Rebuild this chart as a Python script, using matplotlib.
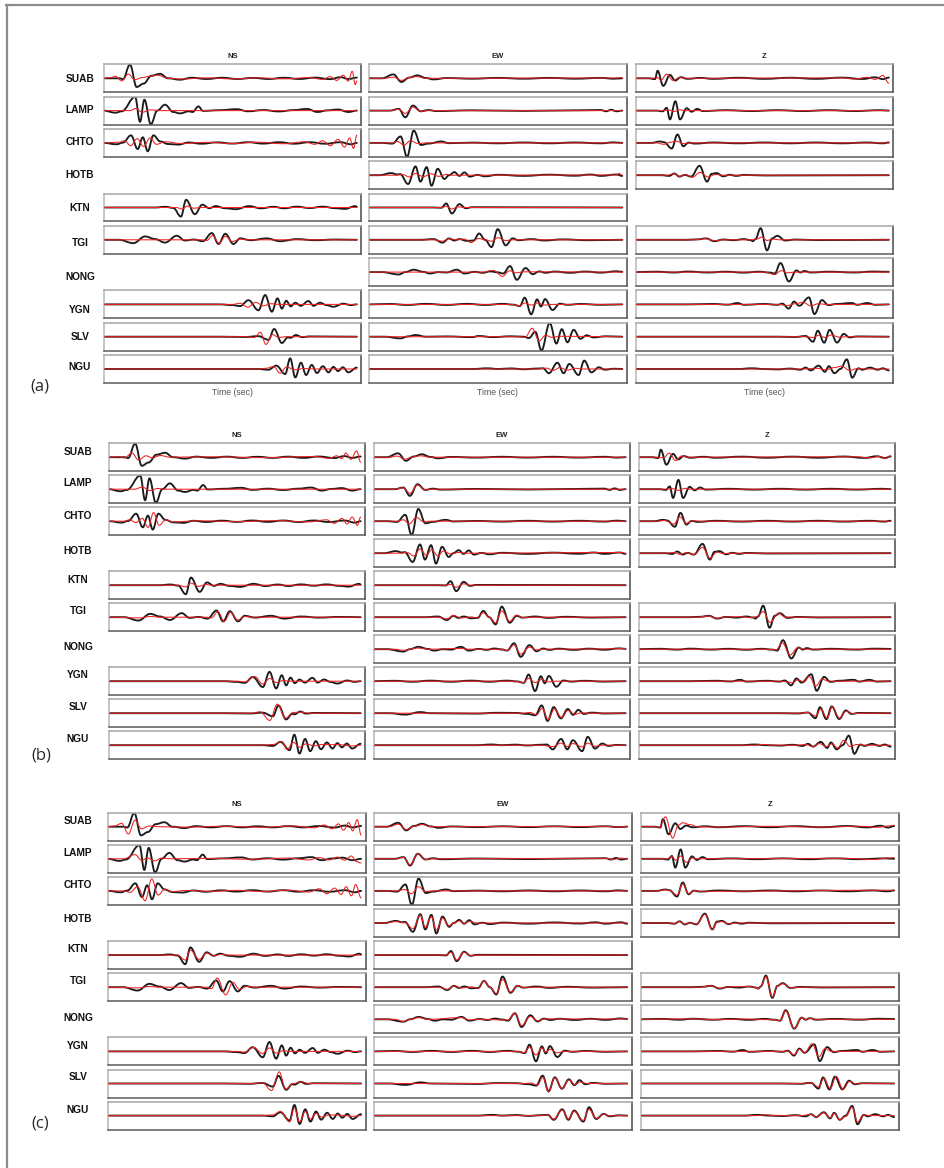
import matplotlib
matplotlib.use('Agg')
import matplotlib.pyplot as plt
from matplotlib.path import Path
from matplotlib.patches import PathPatch
from matplotlib.lines import Line2D

# ---------------- data ----------------
stations = ['SUAB', 'LAMP', 'CHTO', 'HOTB', 'KTN', 'TGI', 'NONG', 'YGN', 'SLV', 'NGU']
components = ['NS', 'EW', 'Z']
available = {
    'NS': ['SUAB', 'LAMP', 'CHTO', 'KTN', 'TGI', 'YGN', 'SLV', 'NGU'],
    'EW': ['SUAB', 'LAMP', 'CHTO', 'HOTB', 'KTN', 'TGI', 'NONG', 'YGN', 'SLV', 'NGU'],
    'Z':  ['SUAB', 'LAMP', 'CHTO', 'HOTB', 'TGI', 'NONG', 'YGN', 'SLV', 'NGU'],
}
panel_labels = ['(a)', '(b)', '(c)']
time_label = 'Time (sec)'

# Observed waveforms (black): extrema as (time % of window, normalised amplitude)
obs_SUAB_NS = [(0,0),(6,0),(7.5,-0.06),(10.2,0.98),(12.8,-0.62),(15.5,-0.38),(18.5,0.18),(21.9,0.32),(25,0.0),(29.7,-0.1),(34,0.04),(40,-0.05),(46,0.04),(52,-0.05),(58,0.03),(64,-0.05),(70,0.04),(76,-0.05),(82,0.05),(88,-0.06),(92,0.08),(95,-0.05),(98.3,0.05)]
obs_LAMP_NS = [(0,0),(4.5,-0.15),(7,-0.05),(12.2,0.98),(14.1,-0.8),(15.8,0.78),(18.3,-0.98),(20.8,0.0),(23.8,0.42),(27,-0.1),(29.7,-0.2),(33,-0.05),(34.5,-0.1),(36.8,0.3),(38.5,-0.02),(45,0.03),(51.7,0.1),(56,-0.05),(62,0.04),(68,-0.06),(74,0.04),(79,0.12),(83,-0.1),(87,0.02),(91,0.08),(95,-0.1),(98.3,0.0)]
obs_CHTO_NS = [(0,0),(5,-0.1),(7.5,0.02),(10.6,0.54),(13.2,-0.44),(15.2,0.4),(17.1,-0.6),(19.3,0.54),(22,0.1),(25,-0.08),(29,-0.12),(33,0.03),(38,-0.06),(44,0.04),(50,-0.05),(56,0.05),(62,-0.05),(68,0.05),(74,-0.06),(80,0.05),(86,-0.06),(92,0.05),(96,-0.1),(98.3,0.0)]
obs_KTN_NS = [(0,0),(20,0),(24,0.05),(27,-0.03),(30.0,-0.65),(32.0,0.55),(35.4,-0.48),(38.3,0.2),(41,-0.05),(43.5,0.1),(47,-0.05),(51.3,-0.12),(56.5,0.1),(61,-0.06),(66,0.05),(70,-0.06),(75,0.06),(80,-0.04),(85,0.06),(90,-0.05),(93.7,-0.1),(97.7,0.1),(98.3,0.05)]
obs_TGI_NS = [(0,0),(6,0),(11.5,-0.24),(16.1,0.24),(20,0.05),(23.8,-0.2),(28.4,0.29),(31.5,-0.05),(35,0.02),(38.5,-0.1),(42,0.48),(44.6,-0.3),(47.2,0.43),(50.4,-0.3),(53,0.1),(57,-0.03),(63.3,0.1),(68.5,-0.1),(75,0.05),(82,-0.03),(90,0.02),(98.3,0)]
obs_YGN_NS = [(0,0),(45,0),(50,-0.05),(53,-0.12),(56.2,0.3),(60.1,-0.42),(62.7,0.67),(65.3,-0.52),(67.5,0.43),(69.2,-0.3),(70.9,0.26),(72.6,-0.14),(74.4,0.12),(76.5,-0.1),(79.5,0.24),(81.5,-0.1),(84,0.12),(86.5,-0.05),(89.2,-0.17),(93,0.05),(96,-0.05),(98.3,0)]
obs_SLV_NS = [(0,0),(45,0),(55,-0.02),(60,0.04),(64,-0.22),(66.2,0.55),(69.2,-0.45),(71.5,-0.05),(72.5,-0.08),(74.7,0.12),(77,-0.03),(80,0.02),(98.3,0)]
obs_NGU_NS = [(0,0),(60,0),(64,-0.05),(67,0.24),(70.5,-0.36),(72.4,0.76),(74.4,-0.6),(76.6,0.45),(78.6,-0.43),(80.8,0.29),(82.8,-0.29),(85.1,0.2),(87.3,-0.24),(89.2,0.15),(91,-0.15),(92.9,0.12),(95,-0.24),(98.3,0.1)]

obs_SUAB_EW = [(0,0),(5,0),(9.4,0.28),(12.5,-0.26),(15.5,0.05),(18.7,0.21),(22,0.02),(25,-0.08),(30,0.02),(40,-0.03),(50,0.03),(60,-0.03),(70,0.03),(80,-0.03),(90,0.03),(95,-0.03),(98.3,0)]
obs_LAMP_EW = [(0,0),(8,0),(11.5,0.12),(14,-0.48),(17,0.36),(20,-0.05),(23,0.04),(26,-0.03),(40,0.02),(60,-0.02),(80,0.02),(90,0.04),(92,-0.05),(94,0.06),(96,-0.05),(98.3,0)]
obs_CHTO_EW = [(0,0),(5,0),(9,-0.05),(12.2,0.46),(14.7,-1.0),(17.3,0.88),(20.1,-0.15),(23,-0.05),(28,0.1),(31,-0.02),(40,0.02),(50,-0.03),(60,0.03),(70,-0.03),(80,0.03),(90,-0.03),(95,0.04),(98.3,0)]
obs_HOTB_EW = [(0,0),(4,0),(8.5,0.15),(11,0.05),(12,0.08),(15.1,-0.63),(18,0.63),(19.9,-0.46),(22.3,0.58),(24.2,-0.75),(26.6,0.46),(29.2,-0.27),(31,0.0),(33.1,0.22),(35,-0.05),(37,0.2),(39,-0.1),(42,0.02),(45,-0.08),(50,0.03),(60,-0.05),(70,0.04),(80,-0.04),(86,0.05),(90,-0.05),(96,0.05),(98.3,-0.05)]
obs_KTN_EW = [(0,0),(25,0),(28,-0.02),(29.9,0.29),(32.1,-0.43),(35,0.24),(37.5,-0.05),(40,0.02),(98.3,0)]
obs_TGI_EW = [(0,0),(20,0),(25,0.05),(28.5,-0.2),(31,0.1),(33,-0.05),(35,0.05),(38,-0.08),(40.5,-0.05),(42.7,0.45),(45,0.0),(47.5,-0.52),(49.9,0.76),(53,-0.4),(55.7,0.1),(58,-0.03),(63,0.05),(68,-0.05),(75,0.03),(85,-0.03),(98.3,0)]
obs_NONG_EW = [(0,0),(5,0),(11.5,-0.17),(14,0.0),(17.3,0.17),(21,0.02),(23.5,-0.1),(27,0.0),(30,-0.03),(34,0.17),(37,-0.1),(41,0.02),(44,-0.05),(47,0.05),(50,-0.02),(52,-0.1),(54.7,0.43),(57.3,-0.55),(60.7,0.29),(63.5,-0.15),(66,0.05),(68.5,-0.05),(72,0.04),(78,-0.05),(84,0.04),(90,-0.04),(96,0.06),(98.3,0.02)]
obs_YGN_EW = [(0,0),(8,0.03),(15,-0.04),(22,0.04),(30,-0.04),(38,0.04),(45,-0.04),(52,0.04),(56,-0.02),(58.5,-0.12),(60.4,0.48),(62.9,-0.71),(65.2,0.36),(66.7,-0.15),(68.3,0.38),(71.2,-0.4),(74,0.05),(77,-0.03),(82,0.03),(90,-0.03),(98.3,0)]
obs_SLV_EW = [(0,0),(6,0),(12.2,-0.12),(15,0.02),(18,0.12),(22,0.0),(30,0.02),(40,-0.03),(42.5,0.05),(48,-0.03),(55,0.03),(60,0.0),(62,-0.1),(64.5,0.35),(66.9,-0.98),(70.1,0.98),(72.7,-0.49),(74.8,0.54),(77,-0.4),(79.4,0.49),(82,-0.15),(84.5,0.1),(87,-0.05),(92,0.03),(98.3,0)]
obs_NGU_EW = [(0,0),(40,0),(46,0.05),(50,0.0),(55,0.04),(60,-0.02),(65,0.03),(67.5,0.05),(69.8,-0.3),(73.1,0.45),(75.5,-0.3),(77.7,0.36),(81.3,-0.43),(83.5,0.6),(86.3,-0.24),(89.2,0.12),(91.5,-0.05),(95,0.02),(98.3,0)]

obs_SUAB_Z = [(0,0),(5,0),(7.5,-0.06),(8.5,0.54),(10.7,-0.54),(13.3,0.24),(15.3,-0.16),(17.5,0.08),(20,-0.04),(25,0.03),(30,-0.04),(40,0.04),(50,-0.04),(60,0.04),(70,-0.04),(80,0.05),(88,-0.05),(93,0.07),(96,-0.06),(98.3,0.05)]
obs_LAMP_Z = [(0,0),(8,0),(10.5,-0.05),(12,0.2),(13.3,-0.63),(15.4,0.67),(17.2,-0.63),(19.8,0.17),(21.7,-0.08),(23.9,0.12),(26,-0.03),(35,0.03),(45,-0.03),(55,0.03),(65,-0.03),(75,0.03),(85,-0.03),(95,0.03),(98.3,0)]
obs_CHTO_Z = [(0,0),(6,0),(9.5,0.1),(11,0.05),(14,-0.4),(16.2,0.6),(18.5,-0.24),(20.5,0.02),(23,-0.05),(30,0.03),(40,-0.03),(50,0.03),(60,-0.03),(70,0.03),(80,-0.03),(90,0.03),(96,-0.03),(98.3,0.03)]
obs_HOTB_Z = [(0,0),(10,0),(13,-0.05),(15,0.12),(17,-0.1),(19,0.02),(21.5,-0.1),(24.8,0.67),(27.7,-0.46),(29.5,0.1),(31.4,0.15),(34,-0.08),(36.5,0.03),(39,-0.05),(42,0.02),(50,-0.02),(98.3,0)]
obs_TGI_Z = [(0,0),(20,0),(24,0.03),(27.3,0.1),(30.5,-0.1),(34,0.02),(38,-0.03),(42,0.05),(44.5,-0.02),(45.5,-0.1),(46.5,0.05),(48.5,0.83),(51,-0.76),(53,0.1),(55,0.29),(58,-0.05),(62,0.02),(70,-0.02),(98.3,0)]
obs_NONG_Z = [(0,0),(8,0.03),(15,-0.03),(20,0.04),(28,-0.03),(35,0.03),(42,-0.04),(48,0.03),(52,-0.03),(54,-0.1),(56.2,0.65),(59.5,-0.67),(62.4,0.12),(64,-0.03),(65.5,0.08),(68,-0.03),(75,0.03),(85,-0.03),(92,0.04),(98.3,0.02)]
obs_YGN_Z = [(0,0),(20,0),(30,0.03),(36,-0.02),(39.5,0.1),(42,-0.03),(50,0.03),(55,-0.03),(57,0.05),(59.4,-0.3),(61.5,0.2),(63.5,-0.1),(67.3,0.5),(69.4,-0.69),(72.3,0.31),(74.8,-0.05),(78,0.03),(83.9,0.1),(86,-0.03),(90,0.1),(93,-0.03),(98.3,0)]
obs_SLV_Z = [(0,0),(55,0),(62,-0.02),(66,0.05),(68.9,-0.36),(70.7,0.43),(73.2,-0.43),(75.3,0.49),(78.2,-0.42),(80.8,0.2),(83,-0.05),(86,0.02),(98.3,0)]
obs_NGU_Z = [(0,0),(40,0),(45,0.05),(50,0.0),(55,-0.03),(60,0.03),(64,-0.05),(66,0.1),(68,-0.1),(71,0.24),(73.5,-0.2),(75,0.2),(77.2,-0.3),(79.5,0.0),(82,0.69),(84.1,-0.62),(86.5,0.05),(88,-0.05),(91,0.1),(94,-0.05),(96,0.05),(98.3,-0.1)]

# observed trace as plotted in panels (b) and (c) where it differs from (a)
obsbc_SLV_EW = [(0,0),(6,0),(12.2,-0.1),(18,0.08),(22,0),(40,-0.03),(48,0.03),(55,0.02),(60,-0.05),(63,-0.15),(65.5,0.56),(67.8,-0.56),(70.2,0.44),(73,-0.37),(75.7,0.3),(77.8,-0.12),(79.8,0.24),(82,-0.05),(85,0.04),(90,-0.02),(98.3,0)]

# Synthetic waveforms (red), panel (a)
syn_a_SUAB_NS = [(0,0),(3,0.05),(4.5,0.15),(7,-0.18),(9.6,0.3),(12,-0.1),(15,0.05),(18,0.15),(21,0.22),(25,0.0),(30,-0.05),(40,0.03),(50,-0.04),(60,0.03),(70,-0.04),(80,0.05),(85,-0.08),(88,0.12),(90.5,-0.15),(93,0.22),(95,-0.2),(96.5,0.5),(97.7,-0.45),(98.3,-0.2)]
syn_a_LAMP_NS = [(0,0),(10,0),(12.5,0.15),(15,-0.12),(18,0.05),(22,0),(98.3,0)]
syn_a_CHTO_NS = [(0,0),(6,0.05),(8,0.15),(10.5,-0.2),(13,0.3),(15.5,-0.25),(18,0.35),(20.5,-0.1),(24,0.08),(30,-0.04),(40,0.04),(50,-0.04),(60,0.05),(70,-0.06),(78,0.08),(82,-0.1),(85,0.15),(88,-0.2),(91,0.25),(93.5,-0.3),(95.5,0.35),(97,-0.4),(98.3,0.55)]
syn_a_KTN_NS = [(0,0),(28,0),(30.5,-0.1),(32.5,0.1),(35,-0.05),(38,0),(98.3,0)]
syn_a_TGI_NS = [(0,0),(38,0),(40,-0.05),(42.3,0.3),(44.8,-0.25),(47.3,0.25),(50,-0.12),(53,0.05),(56,0),(98.3,0)]
syn_a_YGN_NS = [(0,0),(50,0),(53,0.08),(56,-0.2),(59,0.15),(62,-0.1),(65,0.05),(68,0),(98.3,0)]
syn_a_SLV_NS = [(0,0),(55,0),(58.5,-0.05),(60.8,0.32),(63,-0.55),(65.5,0.15),(68,-0.05),(71,0),(98.3,0)]
syn_a_NGU_NS = [(0,0),(60,0),(63,0.05),(66,0.18),(68.5,-0.3),(71,0.15),(74,-0.05),(78,0.03),(82,0),(98.3,0)]
syn_a_SUAB_EW = [(0,0),(6,0),(9.5,0.08),(12.5,-0.15),(15.5,0.05),(18.5,0.12),(22,0),(96,0.02),(97.5,0.06),(98.3,0)]
syn_a_LAMP_EW = [(0,0),(8,0),(11.5,0.1),(14,-0.2),(17,0.25),(20,-0.05),(23,0),(98.3,0)]
syn_a_CHTO_EW = [(0,0),(9,0),(11,0.1),(13.5,-0.15),(16,0.15),(19,-0.05),(22,0),(98.3,0)]
syn_a_HOTB_EW = [(0,0),(10,0),(13,0.05),(15.5,-0.12),(18,0.12),(21,-0.1),(24,0.1),(27,-0.08),(30,0.05),(33,0),(96,0.02),(97,0.12),(98.3,0)]
syn_a_KTN_EW = [(0,0),(28,0),(30,0.08),(32,-0.1),(34.5,0.05),(37,0),(98.3,0)]
syn_a_TGI_EW = [(0,0),(25,0),(28.5,-0.1),(31,0.08),(34,0),(37,0.05),(39.5,-0.2),(42.5,0.1),(45,0),(47.5,-0.1),(50,0.15),(53,-0.05),(56,0),(98.3,0)]
syn_a_NONG_EW = [(0,0),(44,0),(48.2,0.12),(51.8,-0.3),(54.5,0.1),(57,-0.05),(60,0.02),(98.3,0)]
syn_a_YGN_EW = [(0,0),(55,0),(58.3,-0.1),(60.4,0.1),(63,-0.05),(65.5,0.1),(68,-0.05),(71,0),(98.3,0)]
syn_a_SLV_EW = [(0,0),(58,0),(60.5,-0.05),(63.3,0.6),(66,-0.3),(68.5,0.1),(71,-0.05),(74,0.03),(98.3,0)]
syn_a_NGU_EW = [(0,0),(65,0),(69,0.06),(71.5,-0.1),(74,0.1),(77,-0.08),(80,0.05),(83,0),(98.3,0)]
syn_a_SUAB_Z = [(0,0),(6,0),(8.5,0.05),(9.8,-0.15),(12,0.3),(14.5,-0.15),(17,0.05),(20,0),(80,0.03),(85,-0.05),(90,0.07),(93,-0.08),(96,0.2),(98.3,-0.35)]
syn_a_LAMP_Z = [(0,0),(10,0),(13,0.04),(15,-0.06),(17,0.06),(19,0),(98.3,0)]
syn_a_CHTO_Z = [(0,0),(8,0),(11,-0.1),(13.5,0.05),(16,0.12),(18.5,-0.05),(21,0),(98.3,0)]
syn_a_HOTB_Z = [(0,0),(12,0),(15,0.1),(17,-0.08),(19.5,0.03),(22,-0.15),(25,0.2),(28,-0.12),(31,0.05),(34,0),(98.3,0)]
syn_a_TGI_Z = [(0,0),(22,0),(27.3,0.08),(30.5,-0.06),(34,0),(45,0),(47,0.05),(49,0.2),(51,-0.05),(53,0.05),(56,0),(98.3,0)]
syn_a_NONG_Z = [(0,0),(50,0),(54,-0.17),(56.5,0.1),(59,-0.05),(62,0),(98.3,0)]
syn_a_YGN_Z = [(0,0),(55,0),(59,-0.08),(62,0.05),(65,0.15),(68,-0.1),(71,0.05),(74,0),(98.3,0)]
syn_a_SLV_Z = [(0,0),(65,0),(69,-0.05),(71,0.1),(73.5,-0.05),(76,0.12),(79,-0.03),(82,0),(98.3,0)]
syn_a_NGU_Z = [(0,0),(65,0),(70,0.05),(74,-0.05),(77,0.1),(80,0.2),(83,-0.1),(86,0.03),(89,0),(98.3,0)]

# Synthetic waveforms (red), panel (b)
syn_b_SUAB_NS = [(0,0),(4,0.03),(6,-0.05),(9,0.3),(11.5,-0.2),(14.5,0.1),(17,-0.05),(20,0.12),(24,0),(40,0.03),(60,-0.03),(80,0.05),(86,-0.08),(89,0.1),(91,-0.1),(92.5,0.3),(94.5,-0.15),(96.7,0.45),(98.3,-0.35)]
syn_b_LAMP_NS = [(0,0),(10,0),(13,0.15),(16,-0.1),(19,0.05),(22,0),(98.3,0)]
syn_b_CHTO_NS = [(0,0),(6,0),(8,0.1),(10.5,-0.1),(13,0.2),(15.3,-0.45),(17.4,0.62),(19.6,-0.3),(22,0.1),(25,-0.05),(35,0.03),(50,-0.03),(65,0.04),(78,-0.05),(85,0.1),(88,-0.15),(91,0.2),(93,-0.2),(95,0.3),(97,-0.3),(98.3,0.3)]
syn_b_KTN_NS = [(0,0),(27,0),(30,-0.12),(32,0.15),(35,-0.08),(38,0.05),(40,0),(98.3,0)]
syn_b_TGI_NS = [(0,0),(12,-0.05),(16,0.05),(20,0),(38,0),(40,-0.05),(42.5,0.4),(45,-0.3),(47.5,0.35),(50.3,-0.2),(53,0.05),(56,0),(98.3,0)]
syn_b_YGN_NS = [(0,0),(50,0),(53,-0.05),(57,0.33),(60,-0.2),(62.8,0.2),(65.5,-0.1),(68,0.05),(71,0),(98.3,0)]
syn_b_SLV_NS = [(0,0),(56,0),(59,0.1),(62.8,-0.52),(65.7,0.65),(69,-0.35),(72,0.05),(75,0.08),(78,0),(98.3,0)]
syn_b_NGU_NS = [(0,0),(60,0),(64,0.05),(67.6,0.25),(69.6,-0.3),(72,0.2),(74.5,-0.15),(77,0.1),(80,-0.05),(83,0.05),(90,0.03),(95,-0.05),(98.3,0)]
syn_b_SUAB_EW = [(0,0),(6,0),(9,0.08),(12,-0.15),(15,0.02),(18,0.1),(22,0),(98.3,0)]
syn_b_LAMP_EW = [(0,0),(8,0),(11.5,0.1),(14,-0.3),(17,0.3),(20,-0.05),(23,0),(98.3,0)]
syn_b_CHTO_EW = [(0,0),(9,0),(11.5,0.1),(13.8,-0.2),(16.5,0.28),(19.5,-0.05),(22,0),(98.3,0)]
syn_b_HOTB_EW = [(0,0),(10,0),(13,0.05),(15.5,-0.2),(18,0.3),(20.5,-0.15),(22.5,0.25),(25,-0.2),(27,0.15),(30,-0.05),(33,0.05),(36,0),(97,0.05),(98.3,0)]
syn_b_KTN_EW = [(0,0),(28,0),(30,0.05),(32.2,-0.15),(35,0.1),(37.5,0),(98.3,0)]
syn_b_TGI_EW = [(0,0),(25,0),(28.5,-0.12),(31,0.12),(34,-0.05),(38,0.02),(40,-0.05),(42.7,0.32),(45,0.0),(47.5,-0.4),(49.9,0.45),(53,-0.3),(55.7,0.15),(58,-0.03),(61,0),(98.3,0)]
syn_b_NONG_EW = [(0,0),(8,0),(11.5,-0.08),(17,0.08),(22,0),(34,0.05),(37,0),(50,0),(52,-0.1),(54.7,0.3),(57.3,-0.35),(60.7,0.15),(63.5,-0.05),(66,0),(90,0.02),(98.3,0.05)]
syn_b_YGN_EW = [(0,0),(55,0),(58.3,-0.1),(60.4,0.2),(63,-0.1),(65.5,0.12),(68,-0.05),(71,0),(98.3,0)]
syn_b_SLV_EW = [(0,0),(58,0),(61,0.05),(63.5,-0.1),(65.8,0.35),(68,-0.45),(70.5,0.3),(73.2,-0.3),(75.8,0.2),(78.5,-0.08),(81,0.03),(84,0),(98.3,0)]
syn_b_NGU_EW = [(0,0),(65,0),(69.8,-0.1),(73.1,0.15),(75.5,-0.1),(77.7,0.12),(81.3,-0.12),(83.5,0.15),(86.3,-0.08),(89,0),(98.3,0)]
syn_b_SUAB_Z = [(0,0),(7,0),(9.5,-0.05),(11.8,0.29),(14.3,-0.24),(16.5,0.08),(19,0),(85,0.03),(90,-0.05),(94,0.05),(96.5,-0.08),(98.3,0.1)]
syn_b_LAMP_Z = [(0,0),(10,0),(13,0.04),(15.5,-0.08),(18,0.06),(20,0),(98.3,0)]
syn_b_CHTO_Z = [(0,0),(7,0),(10,0.05),(13.6,-0.2),(16,0.3),(18.5,-0.15),(21,0.03),(24,0),(98.3,0)]
syn_b_HOTB_Z = [(0,0),(10,0),(14,0.05),(16,-0.08),(18.5,0.03),(21.5,-0.1),(24.8,0.42),(27.7,-0.35),(30.5,0.08),(33,-0.03),(36,0),(98.3,0)]
syn_b_TGI_Z = [(0,0),(22,0),(27.3,0.08),(30.5,-0.08),(34,0.02),(40,0.03),(44,-0.03),(46,0.05),(48.6,0.4),(51.2,-0.38),(54.5,0.28),(57,0.02),(60,0),(98.3,0)]
syn_b_NONG_Z = [(0,0),(50,0),(53.5,-0.05),(56,0.45),(59,-0.42),(62,0.1),(65,0),(98.3,0)]
syn_b_YGN_Z = [(0,0),(55,0),(58,-0.05),(60,-0.12),(62,0.1),(64.5,-0.05),(66.5,0.35),(69,-0.35),(71.5,0.15),(74,0),(98.3,0)]
syn_b_SLV_Z = [(0,0),(62,0),(66,0.05),(69,-0.2),(71,0.3),(73.5,-0.35),(75.5,0.45),(78.3,-0.35),(81,0.15),(83.5,-0.03),(86,0),(98.3,0)]
syn_b_NGU_Z = [(0,0),(45,0),(48.4,0.05),(52,0),(62,0),(65,0.05),(68,-0.1),(70.5,0.12),(73,-0.1),(75.5,0.1),(77.5,-0.2),(80,0.35),(82.5,-0.1),(85,0.05),(88,0),(98.3,0)]

# Synthetic waveforms (red), panel (c)
syn_c_SUAB_NS = [(0,0),(2.5,0.05),(5.3,0.24),(7.9,-0.52),(10.5,0.47),(13,-0.15),(16,0.05),(20,0),(30,-0.03),(45,0.03),(60,-0.04),(72,0.05),(80,-0.08),(84,0.12),(87,-0.15),(89.5,0.2),(91.5,-0.25),(93.5,0.3),(95,-0.3),(96.8,0.5),(98.3,-0.6)]
syn_c_LAMP_NS = [(0,0),(6,0),(10.5,0.3),(13,-0.1),(15.5,0.05),(18,-0.15),(21,0.05),(24,0),(40,0.03),(55,-0.03),(70,0.05),(78,-0.08),(82,0.08),(86,-0.08),(89,0.12),(92,-0.1),(94.5,0.2),(96.5,-0.2),(98.3,-0.3)]
syn_c_CHTO_NS = [(0,0),(6,0),(8.5,-0.1),(11.5,0.3),(14.4,-0.7),(17,0.85),(19.5,-0.3),(22,0.12),(25,-0.05),(30,0.03),(40,-0.03),(50,0.04),(60,-0.04),(70,0.05),(78,-0.08),(82,0.15),(85,-0.2),(88,0.2),(90.5,-0.25),(92.5,0.3),(94.5,-0.35),(96.2,0.45),(98.3,-0.5)]
syn_c_KTN_NS = [(0,0),(27,0),(30,-0.35),(32,0.35),(35.4,-0.3),(38.3,0.15),(41,-0.05),(44,0.05),(47,0),(98.3,0)]
syn_c_TGI_NS = [(0,0),(12,-0.05),(16,0.05),(20,0),(38,0),(40.2,-0.1),(42.4,0.65),(45.7,-0.55),(48.5,0.35),(51,-0.15),(54,0.05),(57,0),(98.3,0)]
syn_c_YGN_NS = [(0,0),(50,0),(53,-0.05),(56.5,0.28),(60,-0.15),(62.7,0.25),(65.5,-0.12),(68,0.05),(71,0),(98.3,0)]
syn_c_SLV_NS = [(0,0),(56,0),(60,0.05),(63.5,-0.5),(66.5,0.83),(69,-0.4),(72,0.0),(75,0.12),(78,0),(98.3,0)]
syn_c_NGU_NS = [(0,0),(60,0),(64,0.05),(67,0.3),(70.5,-0.45),(72.4,0.55),(74.4,-0.45),(76.6,0.3),(78.6,-0.25),(80.8,0.15),(83,-0.1),(86,0.05),(90,0.03),(95,-0.05),(98.3,0)]
syn_c_SUAB_EW = [(0,0),(6,0),(9.4,0.18),(12.5,-0.2),(15.5,0.03),(18.7,0.15),(22,0),(90,0.02),(95,-0.03),(98.3,0.03)]
syn_c_LAMP_EW = [(0,0),(8,0),(11.5,0.1),(14,-0.42),(17,0.35),(20,-0.05),(23,0),(90,0.03),(93,-0.04),(96,0.05),(98.3,0)]
syn_c_CHTO_EW = [(0,0),(9,0),(12,0.1),(14.5,-0.2),(17.3,0.3),(20,-0.05),(23,0),(98.3,0)]
syn_c_HOTB_EW = [(0,0),(4,0),(8.5,0.1),(12,0.02),(15.1,-0.4),(18,0.55),(19.9,-0.3),(22.3,0.45),(24.2,-0.5),(26.6,0.35),(29.2,-0.2),(31,0.0),(33.1,0.15),(35,-0.05),(37,0.12),(40,0),(98.3,0)]
syn_c_KTN_EW = [(0,0),(28,0),(29.9,0.2),(32.1,-0.35),(35,0.2),(37.5,-0.03),(40,0),(98.3,0)]
syn_c_TGI_EW = [(0,0),(25,0),(28.5,-0.15),(31,0.1),(34,-0.05),(38,0.02),(40.5,-0.08),(42.7,0.45),(45,0.0),(47.5,-0.45),(49.9,0.55),(53,-0.35),(55.7,0.12),(58,-0.03),(61,0),(98.3,0)]
syn_c_NONG_EW = [(0,0),(8,0),(11.5,-0.15),(14,0.0),(17.3,0.12),(21,0.0),(34,0.12),(37,-0.05),(41,0),(52,-0.05),(54.7,0.45),(57.3,-0.45),(60.7,0.2),(63.5,-0.1),(66,0.03),(90,0.02),(98.3,0.03)]
syn_c_YGN_EW = [(0,0),(55,0),(58.3,-0.08),(60.4,0.3),(62.9,-0.25),(65.2,0.25),(66.7,-0.05),(68.3,0.15),(71.2,-0.1),(74,0),(98.3,0)]
syn_c_SLV_EW = [(0,0),(58,0),(61,0.03),(63.5,-0.12),(65.5,0.45),(67.8,-0.6),(70.2,0.4),(73,-0.35),(75.7,0.25),(78,-0.08),(80,0.1),(83,0),(98.3,0)]
syn_c_NGU_EW = [(0,0),(65,0),(67.5,0.05),(69.8,-0.25),(73.1,0.4),(75.5,-0.25),(77.7,0.3),(81.3,-0.35),(83.5,0.45),(86.3,-0.2),(89.2,0.1),(91.5,-0.03),(95,0),(98.3,0)]
syn_c_SUAB_Z = [(0,0),(5,0),(7,-0.05),(9.5,0.7),(12.3,-0.82),(14.5,0.1),(16.2,0.28),(19,0.15),(22,0.0),(30,-0.03),(50,0.03),(70,-0.03),(85,0.03),(92,-0.04),(96,0.05),(98.3,0.1)]
syn_c_LAMP_Z = [(0,0),(10,0),(12,0.15),(13.5,-0.1),(15.5,0.2),(17.5,-0.25),(20,0.05),(22,0),(80,0.03),(90,-0.05),(96,0.05),(98.3,0.08)]
syn_c_CHTO_Z = [(0,0),(6,0),(9.5,0.08),(11,0.03),(14,-0.3),(16.2,0.5),(18.5,-0.2),(20.5,0.02),(23,-0.03),(98.3,0.05)]
syn_c_HOTB_Z = [(0,0),(10,0),(13,-0.03),(15,0.1),(17,-0.08),(19,0.02),(21.5,-0.08),(24.8,0.62),(27.7,-0.45),(29.5,0.05),(31.4,0.1),(34,-0.05),(37,0),(98.3,0)]
syn_c_TGI_Z = [(0,0),(22,0),(27.3,0.1),(30.5,-0.08),(34,0.02),(42,0.05),(44.5,-0.02),(45.5,-0.1),(46.5,0.05),(48.5,0.75),(51,-0.7),(53,0.1),(55,0.25),(58,-0.03),(62,0),(98.3,0)]
syn_c_NONG_Z = [(0,0),(10,0.02),(20,0.03),(30,-0.02),(40,0.02),(52,-0.03),(54,-0.1),(56.2,0.6),(59.5,-0.65),(62.4,0.12),(64,-0.03),(65.5,0.06),(68,0),(98.3,0)]
syn_c_YGN_Z = [(0,0),(55,0),(57,0.03),(59.4,-0.25),(61.5,0.15),(63.5,-0.1),(66.5,0.55),(69,-0.4),(71.5,0.2),(74,0),(98.3,0)]
syn_c_SLV_Z = [(0,0),(62,0),(66,0.05),(69,-0.25),(71,0.35),(73.5,-0.35),(75.8,0.5),(78.5,-0.4),(81,0.15),(83.5,-0.03),(86,0),(98.3,0)]
syn_c_NGU_Z = [(0,0),(45,0),(48.4,0.05),(52,0),(62,0),(66,0.08),(68,-0.08),(71,0.2),(73.5,-0.15),(75,0.15),(77.2,-0.3),(79.5,-0.05),(82,0.6),(84.1,-0.45),(86.5,0.05),(89,0),(98.3,0)]

# ---------------- layout (pixels) ----------------
W, H = 944, 1168
PANELS = [
    dict(col_left=[103.7, 369.2, 635.7], col_w=257.5, top0=64.3, pitch=32.3, box_h=28.0,
         name_x=80, name_y=[79.3, 110, 141.7, 175, 208.3, 242.7, 276.7, 310, 337.3, 366.7],
         lab_xy=(40, 386.5), time_y=392.5),
    dict(col_left=[109.0, 374.0, 639.0], col_w=256.0, top0=443.3, pitch=32.0, box_h=27.8,
         name_x=78, name_y=[451.7, 483.3, 515.7, 550.7, 580, 611.3, 647.3, 675.3, 707.3, 739.3],
         lab_xy=(41.5, 755.5), time_y=None),
    dict(col_left=[108.0, 374.0, 641.0], col_w=257.5, top0=812.7, pitch=32.1, box_h=28.0,
         name_x=78, name_y=[820.7, 852.7, 885, 919.3, 949.3, 981.3, 1018.3, 1045.7, 1077.3, 1110],
         lab_xy=(40, 1123), time_y=None),
]

fig = plt.figure(figsize=(W / 100, H / 100), dpi=100)
fig.patch.set_facecolor('white')

def fx(x):
    return x / W

def fy(y):
    return 1 - y / H

def wave_patch(pts, color, lw, z):
    verts = [pts[0]]
    codes = [Path.MOVETO]
    for (x0, y0), (x1, y1) in zip(pts[:-1], pts[1:]):
        d = (x1 - x0) * 0.38
        verts += [(x0 + d, y0), (x1 - d, y1), (x1, y1)]
        codes += [Path.CURVE4] * 3
    return PathPatch(Path(verts, codes), facecolor='none', edgecolor=color,
                     lw=lw, joinstyle='round', capstyle='round', zorder=z)

G = globals()
for p, P in enumerate(PANELS):
    tag = 'abc'[p]
    for i, st in enumerate(stations):
        top = P['top0'] + P['pitch'] * i
        for j, comp in enumerate(components):
            if st not in available[comp]:
                continue
            left = P['col_left'][j]
            ax = fig.add_axes([fx(left), fy(top + P['box_h']), P['col_w'] / W, P['box_h'] / H])
            ax.set_xlim(0, 100)
            ax.set_ylim(-1, 1)
            ax.set_xticks([])
            ax.set_yticks([])
            ax.spines['top'].set_color('#a6a6a6')
            ax.spines['left'].set_color('#b5b5b5')
            ax.spines['bottom'].set_color('#5a5a5a')
            ax.spines['right'].set_color('#4a4a4a')
            for s in ax.spines.values():
                s.set_linewidth(1.1)
            name = f'{st}_{comp}'
            obs = G['obs_' + name]
            if p > 0 and ('obsbc_' + name) in G:
                obs = G['obsbc_' + name]
            syn = G[f'syn_{tag}_' + name]
            ax.add_patch(wave_patch(obs, '#1c1c1c', 1.35, 2))
            ax.add_patch(wave_patch(syn, '#f02020', 0.75, 3))
        fig.text(fx(P['name_x']), fy(P['name_y'][i]), st, ha='center', va='center',
                 fontsize=7.3, fontweight='bold', family=['Liberation Sans', 'DejaVu Sans'],
                 color='#111111')
    for j, comp in enumerate(components):
        cx = P['col_left'][j] + P['col_w'] / 2
        fig.text(fx(cx), fy(P['top0'] - 8), comp, ha='center', va='center', fontsize=5.5,
                 fontweight='bold', family=['Liberation Sans', 'DejaVu Sans'], color='#222222')
        if P['time_y'] is not None:
            fig.text(fx(cx), fy(P['time_y']), time_label, ha='center', va='center',
                     fontsize=6.3, family=['Liberation Sans', 'DejaVu Sans'], color='#555555')
    fig.text(fx(P['lab_xy'][0]), fy(P['lab_xy'][1]), panel_labels[p], ha='center', va='center',
             fontsize=12, fontweight='normal', family=['Open Sans', 'DejaVu Sans'], color='#2a2a2a')

# outer frame (top and left edges)
fig.add_artist(Line2D([fx(6), fx(W)], [fy(4.5), fy(4.5)], color='#8c8c8c', lw=1.6))
fig.add_artist(Line2D([fx(6.8), fx(6.8)], [fy(4.5), fy(H)], color='#8c8c8c', lw=1.6))

fig.savefig('out.png', dpi=100, facecolor='white')
